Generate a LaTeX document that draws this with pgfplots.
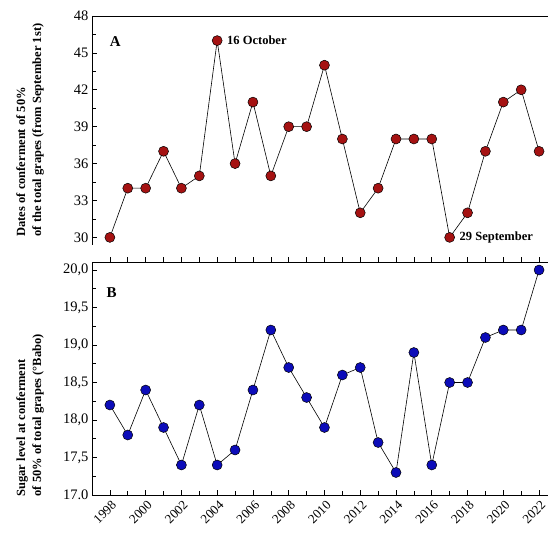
\documentclass[border=0pt]{standalone}
\usepackage{pgfplots}
\pgfplotsset{compat=1.18}
\usepackage{fontspec}
\setmainfont{Liberation Serif}
\definecolor{mred}{RGB}{165,18,18}
\definecolor{mblue}{RGB}{12,12,185}
\begin{document}
\begin{tikzpicture}
\pgfplotsset{
  common/.style={
    scale only axis, width=456pt,
    xmin=1997, xmax=2022.5,
    xtick={1998,2000,...,2022},
    minor xtick={1999,2001,...,2021},
    tick pos=left,
    tick align=inside,
    major tick length=5pt,
    minor tick length=4.5pt,
    axis line style={draw=none},
    every tick/.style={black, line width=0.6pt},
    ticklabel style={font=\fontsize{14.5}{15}\selectfont},
    /pgf/number format/assume math mode=true,
    clip=false,
  },
  ser/.style={black, line width=0.6pt, mark=*, mark size=5pt,
    mark options={fill=#1, draw=black, line width=0.5pt}},
}
% ---------- Panel A ----------
\begin{axis}[common, at={(0,233pt)}, height=246pt,
  ymin=28, ymax=48,
  ytick={30,33,...,48}, minor ytick={31.5,34.5,...,46.5},
  xticklabels={}]
\addplot[ser=mred] coordinates {
(1998,30) (1999,34) (2000,34) (2001,37) (2002,34) (2003,35) (2004,46)
(2005,36) (2006,41) (2007,35) (2008,39) (2009,39) (2010,44) (2011,38)
(2012,32) (2013,34) (2014,38) (2015,38) (2016,38) (2017,30) (2018,32)
(2019,37) (2020,41) (2021,42) (2022,37)};
\draw[line width=0.6pt] (rel axis cs:0,1) -- (rel axis cs:1,1);
\draw[line width=0.6pt] (axis cs:1997,48) -- (axis cs:1997,29.35);
\draw[line width=0.6pt] (rel axis cs:0,0) -- (rel axis cs:1,0);
\node[font=\bfseries\fontsize{15}{15}\selectfont] at (axis cs:1998.3,45.95) {A};
\node[anchor=west, font=\bfseries\fontsize{12.5}{13}\selectfont, inner sep=0pt] at (axis cs:2004.55,46) {16 October};
\node[anchor=west, font=\bfseries\fontsize{12.5}{13}\selectfont, inner sep=0pt] at (axis cs:2017.55,30) {29 September};
\end{axis}
% ---------- Panel B ----------
\begin{axis}[common, at={(0,0)}, height=233pt,
  ymin=17, ymax=20.1067,
  ytick={17,17.5,...,20},
  yticklabels={17.0,{17,5},{18,0},{18,5},{19,0},{19,5},{20,0}},
  minor ytick={17.25,17.75,...,19.75},
  xticklabels={1998,2000,2002,2004,2006,2008,2010,2012,2014,2016,2018,2020,2022},
  xticklabel style={rotate=45, anchor=north east, font=\fontsize{13}{13}\selectfont, inner sep=1pt, yshift=-3pt, xshift=-1.5pt}]
\addplot[ser=mblue] coordinates {
(1998,18.2) (1999,17.8) (2000,18.4) (2001,17.9) (2002,17.4) (2003,18.2)
(2004,17.4) (2005,17.6) (2006,18.4) (2007,19.2) (2008,18.7) (2009,18.3)
(2010,17.9) (2011,18.6) (2012,18.7) (2013,17.7) (2014,17.3) (2015,18.9)
(2016,17.4) (2017,18.5) (2018,18.5) (2019,19.1) (2020,19.2) (2021,19.2)
(2022,20.0)};
\draw[line width=0.6pt] (rel axis cs:0,0) -- (rel axis cs:1,0);
\draw[line width=0.6pt] (rel axis cs:0,0) -- (rel axis cs:0,1);
\node[font=\bfseries\fontsize{15}{15}\selectfont] at (axis cs:1998.1,19.7) {B};
\end{axis}
% ---------- Y labels ----------
\node[rotate=90, anchor=west, align=left, font=\bfseries\fontsize{12.5}{16}\selectfont]
  at (-62pt,255pt) {Dates of conferment of 50\%\\of the total grapes (from September 1st)};
\node[rotate=90, anchor=west, align=left, font=\bfseries\fontsize{12.5}{16}\selectfont]
  at (-62pt,-5pt) {Sugar level at conferment\\of 50\% of total grapes (°Babo)};
\pgfresetboundingbox
\useasboundingbox (-92pt,-40pt) rectangle (456pt,495pt);
\end{tikzpicture}
\end{document}
